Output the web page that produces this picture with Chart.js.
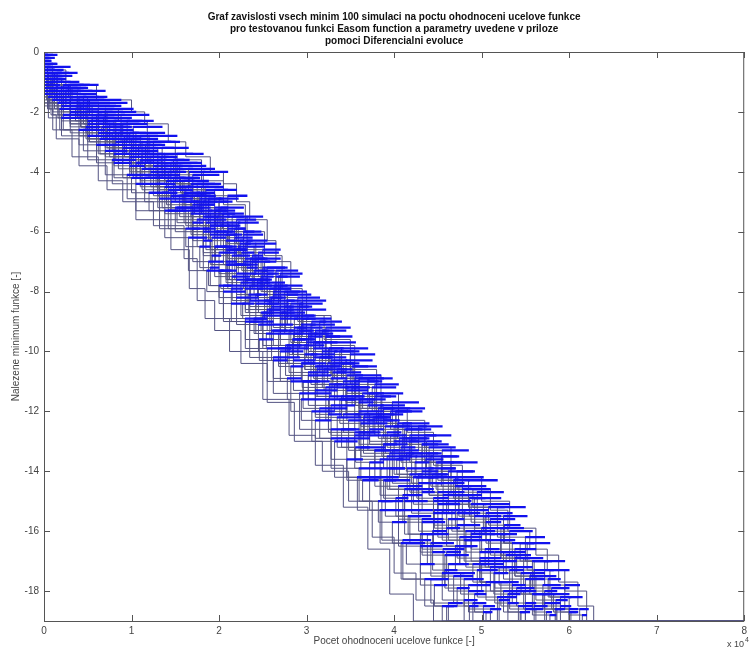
<!DOCTYPE html>
<html>
<head>
<meta charset="utf-8">
<script src="https://cdn.jsdelivr.net/npm/chart.js@4.4.1/dist/chart.umd.min.js"></script>
<style>
  html, body { margin: 0; padding: 0; background: #fff; }
  #wrap { width: 751px; height: 650px; position: relative; }
</style>
</head>
<body>
<div id="wrap"><canvas id="chart"></canvas></div>
<script>
// title and axis text
const titleLines = [
  "Graf zavislosti vsech minim 100 simulaci na poctu ohodnoceni ucelove funkce",
  "pro testovanou funkci Easom function a parametry uvedene v priloze",
  "pomoci Diferencialni evoluce",
];
const xLabel = "Pocet ohodnoceni ucelove funkce [-]";
const yLabel = "Nalezene minimum funkce [-]";

// tick positions (x is in units of 10^4 evaluations)
const evalTicks = [0, 1, 2, 3, 4, 5, 6, 7, 8];
const minTicks = [-18, -16, -14, -12, -10, -8, -6, -4, -2, 0];

// best-so-far traces: [evaluations / 10^4, minimum found]
const run01 = [[0,-0.2],[0.03,-0.9],[0.08,-1.6],[0.14,-2.1],[0.4,-2.9],[0.72,-3.8],[1.05,-4.6],[1.45,-5.6],[1.66,-6.6],[1.84,-7.9],[2.12,-8.9],[2.5,-10.0],[2.8,-11.6],[3.1,-12.8],[3.42,-13.8],[3.7,-15.2],[3.95,-16.6],[4.22,-18.1],[4.48,-19],[8,-19]];
const run02 = [[0,-0.5],[0.06,-1.1],[0.18,-1.9],[0.45,-2.6],[0.7,-3.3],[0.95,-4.1],[1.32,-4.9],[1.7,-5.9],[1.88,-7.0],[2.05,-7.8],[2.35,-9.0],[2.62,-10.2],[2.92,-11.4],[3.28,-12.6],[3.6,-13.9],[3.86,-15.0],[4.1,-16.3],[4.42,-17.6],[4.62,-18.4],[4.78,-19],[8,-19]];
const run03 = [[0,-0.1],[0.04,-0.6],[0.12,-1.3],[0.3,-1.8],[0.6,-2.4],[0.8,-3.1],[1.05,-3.7],[1.3,-4.4],[1.5,-5.2],[1.82,-6.0],[2.0,-7.3],[2.2,-8.2],[2.45,-9.1],[2.7,-10.0],[2.96,-11.0],[3.15,-11.9],[3.46,-12.9],[3.72,-14.2],[4.05,-15.3],[4.3,-16.5],[4.55,-17.4],[4.8,-18.3],[4.95,-19],[8,-19]];
const run04 = [[0,-0.7],[0.1,-1.2],[0.3,-1.7],[0.52,-2.3],[0.85,-3.0],[1.12,-3.9],[1.42,-4.6],[1.7,-5.3],[1.92,-6.2],[2.08,-7.1],[2.25,-7.7],[2.5,-8.8],[2.8,-9.9],[3.02,-10.7],[3.25,-11.6],[3.55,-12.7],[3.84,-13.6],[4.1,-14.8],[4.32,-15.7],[4.58,-16.8],[4.85,-17.8],[5.1,-18.6],[5.22,-19],[8,-19]];
const run05 = [[0,-0.3],[0.08,-0.9],[0.22,-1.5],[0.48,-2.0],[0.78,-2.7],[1.05,-3.3],[1.3,-4.0],[1.6,-4.8],[1.85,-5.7],[2.1,-6.6],[2.3,-7.6],[2.58,-8.6],[2.85,-9.6],[3.1,-10.5],[3.38,-11.6],[3.62,-12.4],[3.92,-13.5],[4.2,-14.6],[4.45,-15.4],[4.7,-16.5],[4.95,-17.3],[5.18,-18.2],[5.4,-19],[8,-19]];
const run06 = [[0,-0.9],[0.15,-1.4],[0.42,-1.9],[0.7,-2.5],[0.98,-3.2],[1.28,-3.8],[1.58,-4.5],[1.88,-5.3],[2.08,-6.3],[2.28,-7.0],[2.45,-7.9],[2.7,-8.7],[2.98,-9.8],[3.2,-10.6],[3.46,-11.3],[3.7,-12.3],[3.98,-13.3],[4.28,-14.4],[4.55,-15.3],[4.82,-16.3],[5.1,-17.2],[5.32,-18.0],[5.5,-18.6],[5.62,-19],[8,-19]];
const run07 = [[0,-0.4],[0.1,-1.0],[0.3,-1.4],[0.6,-2.1],[0.92,-2.8],[1.2,-3.5],[1.48,-4.2],[1.78,-4.9],[2.02,-5.8],[2.22,-6.5],[2.4,-7.4],[2.62,-8.1],[2.9,-9.2],[3.18,-10.2],[3.45,-11.2],[3.72,-12.1],[4.0,-13.0],[4.28,-14.1],[4.6,-15.0],[4.88,-16.1],[5.15,-17.0],[5.4,-17.9],[5.6,-18.5],[5.75,-19],[8,-19]];
const run08 = [[0,-0.6],[0.12,-1.2],[0.38,-1.6],[0.68,-2.2],[1.0,-2.9],[1.3,-3.6],[1.6,-4.3],[1.88,-5.0],[2.1,-5.9],[2.3,-6.9],[2.52,-7.7],[2.75,-8.5],[3.02,-9.4],[3.3,-10.4],[3.55,-11.0],[3.82,-12.1],[4.1,-12.9],[4.4,-13.9],[4.7,-14.8],[5.0,-15.9],[5.25,-16.7],[5.5,-17.6],[5.72,-18.4],[5.9,-19],[8,-19]];
const run09 = [[0,-0.2],[0.07,-0.8],[0.25,-1.3],[0.55,-1.8],[0.88,-2.4],[1.18,-3.0],[1.5,-3.7],[1.8,-4.5],[2.05,-5.4],[2.28,-6.1],[2.5,-7.2],[2.75,-8.0],[3.0,-8.9],[3.28,-9.7],[3.56,-10.8],[3.85,-11.8],[4.12,-12.6],[4.42,-13.5],[4.74,-14.5],[5.05,-15.4],[5.35,-16.4],[5.6,-17.3],[5.82,-18.1],[6.0,-18.7],[6.08,-19],[8,-19]];
const run10 = [[0,-0.1],[0.15,-0.7],[0.38,-1.3],[0.7,-1.9],[1.02,-2.5],[1.35,-3.2],[1.65,-3.9],[1.95,-4.6],[2.2,-5.6],[2.42,-6.4],[2.65,-7.3],[2.9,-8.2],[3.15,-9.0],[3.4,-9.9],[3.7,-10.9],[3.98,-11.7],[4.28,-12.5],[4.55,-13.3],[4.85,-14.3],[5.18,-15.2],[5.5,-16.2],[5.72,-17.0],[5.95,-17.8],[6.12,-18.6],[6.22,-19],[8,-19]];
const run11 = [[0,-0.5],[0.2,-0.9],[0.5,-1.5],[0.85,-1.9],[1.18,-2.3],[1.5,-3.0],[1.8,-3.6],[2.05,-4.3],[2.3,-5.1],[2.52,-6.0],[2.72,-6.8],[2.95,-7.9],[3.2,-8.8],[3.5,-9.6],[3.8,-10.6],[4.05,-11.4],[4.35,-12.3],[4.65,-13.2],[5.0,-14.2],[5.32,-15.0],[5.62,-15.9],[5.88,-16.8],[6.1,-17.7],[6.28,-18.5],[6.31,-19],[8,-19]];
const run12 = [[0,-0.3],[0.25,-0.6],[0.6,-1.1],[1.0,-1.6],[1.15,-2.0],[1.42,-2.4],[1.62,-3.0],[1.9,-3.5],[2.05,-4.0],[2.2,-4.4],[2.35,-5.0],[2.55,-5.6],[2.65,-6.3],[2.82,-7.0],[3.0,-8.0],[3.28,-8.8],[3.55,-9.8],[3.85,-10.8],[4.15,-11.9],[4.45,-12.7],[4.78,-13.8],[5.1,-14.6],[5.3,-15.3],[5.55,-16.0],[5.75,-16.6],[5.95,-17.3],[6.2,-18.0],[6.26,-19],[8,-19]];
const run13 = [[0,-1.1],[0.1,-1.6],[0.3,-2.0],[0.62,-2.7],[0.9,-3.4],[1.15,-4.2],[1.45,-5.0],[1.75,-5.6],[1.95,-6.5],[2.15,-7.5],[2.35,-8.3],[2.6,-9.3],[2.85,-10.3],[3.1,-11.3],[3.35,-12.2],[3.62,-13.2],[3.9,-14.3],[4.18,-15.5],[4.42,-16.4],[4.68,-17.5],[4.9,-18.4],[5.05,-19],[8,-19]];
const run14 = [[0,-1.4],[0.2,-1.8],[0.5,-2.3],[0.82,-3.0],[1.1,-3.6],[1.4,-4.3],[1.7,-5.1],[1.95,-6.0],[2.15,-6.8],[2.35,-7.8],[2.6,-8.5],[2.85,-9.4],[3.12,-10.5],[3.4,-11.5],[3.65,-12.2],[3.95,-13.4],[4.22,-14.2],[4.5,-15.1],[4.75,-16.2],[5.0,-17.1],[5.25,-18.0],[5.45,-18.7],[5.55,-19],[8,-19]];
const run15 = [[0,-0.8],[0.18,-1.3],[0.45,-1.7],[0.75,-2.4],[1.08,-3.1],[1.38,-3.8],[1.68,-4.4],[1.95,-5.3],[2.18,-6.2],[2.38,-7.0],[2.58,-7.9],[2.82,-8.8],[3.08,-9.7],[3.35,-10.7],[3.62,-11.6],[3.9,-12.5],[4.2,-13.4],[4.5,-14.4],[4.8,-15.3],[5.08,-16.3],[5.35,-17.2],[5.58,-18.1],[5.78,-18.8],[5.85,-19],[8,-19]];
const run16 = [[0,-0.4],[0.14,-1.0],[0.4,-1.5],[0.72,-2.0],[1.05,-2.7],[1.38,-3.4],[1.7,-4.1],[2.0,-4.9],[2.22,-5.7],[2.45,-6.7],[2.68,-7.5],[2.92,-8.4],[3.18,-9.3],[3.45,-10.3],[3.75,-11.2],[4.02,-12.0],[4.32,-13.1],[4.62,-14.0],[4.92,-14.9],[5.22,-15.9],[5.48,-16.9],[5.7,-17.8],[5.9,-18.5],[6.02,-19],[8,-19]];
const run17 = [[0,-0.9],[0.05,-1.5],[0.2,-2.2],[0.5,-2.8],[0.78,-3.6],[1.05,-4.4],[1.38,-5.3],[1.65,-6.2],[1.86,-7.3],[2.05,-8.0],[2.3,-8.9],[2.55,-9.9],[2.82,-11.0],[3.06,-12.0],[3.32,-13.0],[3.58,-14.2],[3.84,-15.3],[4.08,-16.4],[4.35,-17.6],[4.55,-18.5],[4.68,-19],[8,-19]];
const run18 = [[0,-0.6],[0.22,-1.1],[0.52,-1.6],[0.88,-2.1],[1.2,-2.8],[1.52,-3.4],[1.82,-4.0],[2.1,-4.8],[2.32,-5.5],[2.5,-6.6],[2.7,-7.4],[2.95,-8.3],[3.22,-9.2],[3.5,-10.1],[3.78,-11.1],[4.05,-11.9],[4.35,-12.8],[4.65,-13.7],[4.95,-14.7],[5.25,-15.5],[5.52,-16.4],[5.78,-17.3],[6.0,-18.2],[6.15,-18.8],[6.2,-19],[8,-19]];
const run19 = [[0,-0.2],[0.05,-0.7],[0.2,-1.2],[0.42,-1.8],[0.75,-2.5],[1.0,-3.3],[1.3,-4.1],[1.55,-4.8],[1.82,-5.5],[2.0,-6.7],[2.2,-7.4],[2.42,-8.4],[2.68,-9.4],[2.95,-10.4],[3.22,-11.2],[3.48,-12.3],[3.78,-13.3],[4.05,-14.5],[4.32,-15.6],[4.56,-16.6],[4.8,-17.6],[5.02,-18.5],[5.15,-19],[8,-19]];
const run20 = [[0,-1.2],[0.16,-1.7],[0.4,-2.2],[0.7,-2.8],[1.02,-3.5],[1.32,-4.2],[1.62,-5.0],[1.9,-5.8],[2.12,-6.6],[2.32,-7.6],[2.55,-8.4],[2.8,-9.3],[3.05,-10.1],[3.32,-11.1],[3.6,-12.0],[3.88,-13.1],[4.15,-13.9],[4.45,-15.0],[4.72,-15.8],[4.98,-16.9],[5.22,-17.7],[5.42,-18.5],[5.58,-19],[8,-19]];
const run21 = [[0,-0.6],[0.04,-1.3],[0.1,-1.9],[0.32,-2.6],[0.62,-3.5],[0.9,-4.3],[1.25,-5.0],[1.6,-5.8],[1.75,-6.9],[1.95,-8.3],[2.25,-9.3],[2.55,-10.4],[2.86,-11.7],[3.18,-13.0],[3.48,-14.0],[3.75,-15.0],[4.0,-16.2],[4.25,-17.4],[4.45,-18.3],[4.58,-19],[8,-19]];
const run22 = [[0,-0.1],[0.1,-0.5],[0.3,-1.1],[0.62,-1.7],[0.95,-2.3],[1.25,-3.0],[1.55,-3.8],[1.85,-4.6],[2.1,-5.5],[2.32,-6.3],[2.55,-7.2],[2.78,-8.1],[3.05,-9.1],[3.32,-10.0],[3.6,-10.9],[3.88,-11.9],[4.18,-12.8],[4.48,-13.7],[4.78,-14.6],[5.1,-15.6],[5.38,-16.6],[5.62,-17.5],[5.85,-18.3],[5.98,-19],[8,-19]];
const run23 = [[0,-0.7],[0.2,-1.2],[0.48,-1.8],[0.82,-2.3],[1.12,-3.0],[1.45,-3.7],[1.75,-4.4],[2.02,-5.2],[2.28,-6.0],[2.48,-6.9],[2.7,-7.8],[2.95,-8.6],[3.22,-9.5],[3.52,-10.5],[3.8,-11.4],[4.1,-12.4],[4.4,-13.2],[4.7,-14.2],[5.02,-15.1],[5.32,-16.0],[5.58,-17.0],[5.8,-17.9],[6.0,-18.6],[6.1,-19],[8,-19]];
const run24 = [[0,-0.5],[0.08,-1.0],[0.22,-1.6],[0.5,-2.2],[0.8,-2.9],[1.1,-3.7],[1.38,-4.5],[1.68,-5.4],[1.9,-6.1],[2.1,-7.1],[2.3,-7.9],[2.5,-8.7],[2.76,-9.8],[3.02,-10.8],[3.28,-11.8],[3.55,-12.8],[3.85,-13.9],[4.12,-15.0],[4.38,-16.1],[4.62,-17.1],[4.85,-18.0],[5.02,-18.7],[5.1,-19],[8,-19]];
const run25 = [[0,-0.3],[0.05,-0.8],[0.15,-1.2],[0.3,-1.6],[0.45,-2.0],[0.62,-2.4],[0.8,-2.8],[0.98,-3.3],[1.15,-3.7],[1.32,-4.1],[1.5,-4.6],[1.68,-5.0],[1.85,-5.5],[1.98,-6.0],[2.08,-6.6],[2.18,-7.1],[2.3,-7.6],[2.42,-8.1],[2.55,-8.6],[2.7,-9.1],[2.84,-9.6],[2.98,-10.1],[3.12,-10.6],[3.26,-11.1],[3.4,-11.6],[3.55,-12.1],[3.72,-12.6],[3.88,-13.1],[4.03,-13.6],[4.18,-14.1],[4.32,-14.7],[4.46,-15.3],[4.6,-15.9],[4.75,-16.5],[4.9,-17.1],[5.05,-17.7],[5.2,-18.3],[5.32,-19],[8,-19]];
const run26 = [[0,-0.6],[0.1,-1.0],[0.22,-1.4],[0.38,-1.8],[0.55,-2.2],[0.72,-2.6],[0.9,-3.0],[1.08,-3.4],[1.25,-3.8],[1.42,-4.2],[1.6,-4.7],[1.78,-5.1],[1.95,-5.6],[2.08,-6.1],[2.2,-6.6],[2.32,-7.2],[2.44,-7.7],[2.58,-8.2],[2.72,-8.7],[2.86,-9.2],[3.0,-9.7],[3.15,-10.2],[3.3,-10.7],[3.45,-11.2],[3.6,-11.7],[3.76,-12.2],[3.92,-12.7],[4.08,-13.2],[4.24,-13.7],[4.4,-14.2],[4.56,-14.8],[4.72,-15.4],[4.88,-16.0],[5.04,-16.6],[5.2,-17.2],[5.35,-17.8],[5.5,-18.4],[5.62,-19],[8,-19]];
const run27 = [[0,-0.2],[0.12,-0.7],[0.28,-1.1],[0.45,-1.5],[0.62,-1.9],[0.8,-2.3],[0.98,-2.7],[1.16,-3.1],[1.34,-3.5],[1.52,-3.9],[1.7,-4.4],[1.88,-4.9],[2.04,-5.4],[2.18,-5.9],[2.3,-6.4],[2.42,-6.9],[2.55,-7.4],[2.68,-7.9],[2.82,-8.4],[2.96,-8.9],[3.1,-9.4],[3.25,-9.9],[3.4,-10.4],[3.55,-10.9],[3.72,-11.4],[3.88,-11.9],[4.04,-12.4],[4.2,-12.9],[4.37,-13.4],[4.54,-13.9],[4.7,-14.5],[4.88,-15.1],[5.05,-15.7],[5.22,-16.3],[5.38,-16.9],[5.55,-17.5],[5.7,-18.1],[5.84,-18.6],[5.92,-19],[8,-19]];
const run28 = [[0,-0.9],[0.06,-1.3],[0.16,-1.7],[0.3,-2.1],[0.48,-2.5],[0.64,-2.9],[0.8,-3.4],[0.98,-3.8],[1.15,-4.2],[1.35,-4.7],[1.52,-5.2],[1.7,-5.7],[1.82,-6.3],[1.92,-6.8],[2.02,-7.3],[2.14,-7.9],[2.27,-8.4],[2.4,-8.9],[2.54,-9.4],[2.68,-9.9],[2.82,-10.5],[2.96,-11.0],[3.1,-11.6],[3.25,-12.1],[3.4,-12.6],[3.56,-13.2],[3.72,-13.7],[3.88,-14.3],[4.02,-14.9],[4.16,-15.5],[4.3,-16.1],[4.44,-16.7],[4.58,-17.3],[4.72,-17.9],[4.86,-18.5],[4.96,-19],[8,-19]];
const run29 = [[0,-0.4],[0.15,-0.8],[0.32,-1.2],[0.5,-1.6],[0.7,-2.0],[0.9,-2.4],[1.1,-2.8],[1.3,-3.2],[1.48,-3.6],[1.66,-4.0],[1.84,-4.5],[2.0,-5.0],[2.15,-5.5],[2.28,-6.0],[2.4,-6.5],[2.52,-7.0],[2.65,-7.5],[2.78,-8.0],[2.92,-8.5],[3.06,-9.0],[3.22,-9.5],[3.38,-10.0],[3.54,-10.5],[3.7,-11.0],[3.86,-11.5],[4.02,-12.0],[4.2,-12.5],[4.37,-13.0],[4.54,-13.5],[4.72,-14.0],[4.9,-14.6],[5.08,-15.2],[5.26,-15.8],[5.44,-16.4],[5.6,-17.0],[5.76,-17.6],[5.9,-18.2],[6.02,-18.7],[6.1,-19],[8,-19]];
const run30 = [[0,-1.0],[0.12,-1.5],[0.3,-1.9],[0.5,-2.4],[0.75,-2.9],[0.98,-3.5],[1.22,-4.0],[1.45,-4.5],[1.7,-5.2],[1.9,-5.8],[2.05,-6.5],[2.2,-7.1],[2.36,-7.8],[2.52,-8.3],[2.7,-8.9],[2.9,-9.6],[3.08,-10.2],[3.28,-10.9],[3.46,-11.5],[3.66,-12.1],[3.86,-12.8],[4.06,-13.5],[4.26,-14.2],[4.45,-14.9],[4.62,-15.6],[4.8,-16.3],[4.98,-17.0],[5.15,-17.7],[5.3,-18.4],[5.42,-19],[8,-19]];
const run31 = [[0,-0.5],[0.1,-0.9],[0.25,-1.3],[0.42,-1.7],[0.62,-2.1],[0.82,-2.6],[1.02,-3.1],[1.22,-3.5],[1.42,-4.0],[1.62,-4.5],[1.82,-5.0],[1.98,-5.5],[2.12,-6.1],[2.26,-6.7],[2.4,-7.3],[2.55,-7.8],[2.7,-8.3],[2.86,-8.9],[3.02,-9.5],[3.18,-10.0],[3.35,-10.6],[3.52,-11.2],[3.7,-11.8],[3.88,-12.3],[4.06,-12.9],[4.25,-13.5],[4.44,-14.1],[4.62,-14.7],[4.8,-15.4],[4.98,-16.0],[5.15,-16.7],[5.32,-17.3],[5.48,-18.0],[5.62,-18.6],[5.7,-19],[8,-19]];
const run32 = [[0,-0.1],[0.04,-0.5],[0.1,-0.9],[0.2,-1.4],[0.36,-1.9],[0.55,-2.3],[0.72,-2.8],[0.9,-3.2],[1.06,-3.7],[1.25,-4.2],[1.45,-4.8],[1.65,-5.3],[1.82,-5.9],[1.96,-6.5],[2.08,-7.0],[2.2,-7.6],[2.34,-8.1],[2.48,-8.7],[2.62,-9.3],[2.78,-9.8],[2.94,-10.4],[3.1,-11.0],[3.26,-11.5],[3.42,-12.1],[3.6,-12.7],[3.78,-13.3],[3.95,-13.9],[4.12,-14.6],[4.28,-15.3],[4.44,-16.0],[4.6,-16.7],[4.76,-17.4],[4.92,-18.1],[5.05,-18.7],[5.12,-19],[8,-19]];
const run33 = [[0,-1.3],[0.2,-1.7],[0.42,-2.1],[0.66,-2.5],[0.9,-2.9],[1.12,-3.4],[1.35,-3.8],[1.56,-4.2],[1.76,-4.7],[1.95,-5.2],[2.1,-5.7],[2.24,-6.3],[2.38,-6.8],[2.5,-7.3],[2.63,-7.8],[2.78,-8.3],[2.94,-8.8],[3.1,-9.3],[3.26,-9.9],[3.42,-10.4],[3.6,-10.9],[3.78,-11.5],[3.96,-12.0],[4.14,-12.6],[4.32,-13.1],[4.5,-13.7],[4.68,-14.3],[4.86,-14.9],[5.04,-15.5],[5.22,-16.1],[5.4,-16.8],[5.56,-17.4],[5.72,-18.0],[5.86,-18.6],[5.95,-19],[8,-19]];
const run34 = [[0,-0.7],[0.04,-1.1],[0.1,-1.6],[0.22,-2.1],[0.4,-2.6],[0.6,-3.1],[0.8,-3.7],[1.0,-4.2],[1.2,-4.7],[1.42,-5.3],[1.62,-5.9],[1.78,-6.5],[1.9,-7.2],[2.0,-7.8],[2.14,-8.4],[2.3,-9.0],[2.46,-9.6],[2.62,-10.3],[2.78,-10.9],[2.94,-11.6],[3.1,-12.3],[3.28,-12.9],[3.46,-13.6],[3.64,-14.3],[3.82,-15.0],[3.98,-15.7],[4.14,-16.4],[4.3,-17.1],[4.46,-17.8],[4.6,-18.5],[4.72,-19],[8,-19]];
const run35 = [[0,-0.3],[0.08,-0.8],[0.2,-1.3],[0.4,-1.7],[0.62,-2.2],[0.85,-2.7],[1.08,-3.2],[1.3,-3.7],[1.5,-4.3],[1.72,-4.8],[1.9,-5.4],[2.05,-6.0],[2.18,-6.6],[2.3,-7.1],[2.44,-7.6],[2.6,-8.2],[2.76,-8.8],[2.92,-9.3],[3.08,-9.9],[3.24,-10.4],[3.42,-11.0],[3.6,-11.6],[3.78,-12.2],[3.96,-12.8],[4.14,-13.4],[4.32,-14.0],[4.5,-14.7],[4.66,-15.3],[4.82,-16.0],[4.98,-16.7],[5.14,-17.4],[5.3,-18.1],[5.44,-18.7],[5.5,-19],[8,-19]];
const run36 = [[0,-0.8],[0.14,-1.2],[0.3,-1.6],[0.5,-2.0],[0.72,-2.5],[0.94,-2.9],[1.16,-3.4],[1.38,-3.9],[1.58,-4.3],[1.78,-4.8],[1.96,-5.3],[2.1,-5.8],[2.24,-6.4],[2.36,-6.9],[2.48,-7.5],[2.62,-8.0],[2.78,-8.6],[2.94,-9.1],[3.1,-9.7],[3.28,-10.3],[3.46,-10.8],[3.64,-11.4],[3.82,-11.9],[4.0,-12.5],[4.18,-13.0],[4.36,-13.6],[4.56,-14.2],[4.74,-14.8],[4.92,-15.5],[5.1,-16.1],[5.28,-16.8],[5.45,-17.4],[5.6,-18.1],[5.74,-18.7],[5.8,-19],[8,-19]];

// runs along the edges of the band stay thin grey; the rest get blue plateaus
const edgeRuns = [run01, run11, run12, run21];
const runs = [run01, run02, run03, run04, run05, run06, run07, run08, run09, run10, run11, run12,
              run13, run14, run15, run16, run17, run18, run19, run20, run21, run22, run23, run24,
              run25, run26, run27, run28, run29, run30, run31, run32, run33, run34, run35, run36];

const FONT = "'Liberation Sans Narrow', 'Liberation Sans', Arial, sans-serif";
const LINE = "#545482";
const BLUE = "#1212ee";

// box with inward tick marks on all four sides, title on top
const frame = {
  id: "frame",
  afterDatasetsDraw(chart) {
    const { ctx, chartArea: a, scales: { x, y } } = chart;
    ctx.save();
    ctx.strokeStyle = "#555";
    ctx.lineWidth = 1;
    ctx.strokeRect(a.left + 0.5, a.top + 0.5, a.right - a.left - 1, a.bottom - a.top);
    ctx.beginPath();
    for (const v of evalTicks) {
      const px = Math.round(x.getPixelForValue(v)) + 0.5;
      ctx.moveTo(px, a.bottom); ctx.lineTo(px, a.bottom - 6);
      ctx.moveTo(px, a.top); ctx.lineTo(px, a.top + 6);
    }
    for (const v of minTicks) {
      const py = Math.round(y.getPixelForValue(v)) + 0.5;
      ctx.moveTo(a.left, py); ctx.lineTo(a.left + 6, py);
      ctx.moveTo(a.right, py); ctx.lineTo(a.right - 6, py);
    }
    ctx.stroke();

    ctx.fillStyle = "#111";
    ctx.font = "bold 10px " + FONT;
    ctx.textAlign = "center";
    ctx.textBaseline = "middle";
    const cx = (a.left + a.right) / 2;
    titleLines.forEach((t, i) => ctx.fillText(t, cx, 17 + i * 12));

    // exponent for the x axis
    ctx.fillStyle = "#444";
    ctx.font = "9px " + FONT;
    ctx.textAlign = "left";
    ctx.fillText("x 10", 727, 645);
    ctx.font = "7px " + FONT;
    ctx.fillText("4", 745, 640);
    ctx.restore();
  },
};

const stepLines = runs.map((r) => ({
  type: "line",
  data: r,
  stepped: "after",
  borderColor: LINE,
  borderWidth: 1,
  pointRadius: 0,
  fill: false,
  order: 2,
}));

// plateaus of each run (before the final -19 stretch) as thin floating bars
const plateaus = runs.filter((r) => !edgeRuns.includes(r)).map((r) => ({
  type: "bar",
  indexAxis: "y",
  grouped: false,
  barThickness: 1.6,
  backgroundColor: BLUE,
  borderWidth: 0,
  order: 1,
  data: r.slice(0, -2).map((p, i) => ({ y: p[1], x: [p[0], r[i + 1][0]] })),
}));

new Chart(document.getElementById("chart"), {
  type: "line",
  data: { datasets: [...stepLines, ...plateaus] },
  options: {
    responsive: true,
    maintainAspectRatio: false,
    animation: false,
    events: [],
    layout: { padding: { top: 52, right: 2, left: 0, bottom: 0 } },
    plugins: {
      legend: { display: false },
      tooltip: { enabled: false },
    },
    scales: {
      x: {
        type: "linear",
        min: 0,
        max: 8,
        offset: false,
        afterBuildTicks: (s) => { s.ticks = evalTicks.map((v) => ({ value: v })); },
        afterFit: (s) => { s.height = 29; },
        grid: { display: false, drawTicks: false },
        border: { display: false },
        ticks: { color: "#444", padding: 4, maxRotation: 0, font: { family: FONT, size: 10 } },
        title: { display: true, text: xLabel, color: "#444", padding: { top: 0, bottom: 3 }, font: { family: FONT, size: 10 } },
      },
      y: {
        type: "linear",
        min: -19,
        max: 0,
        offset: false,
        afterBuildTicks: (s) => { s.ticks = minTicks.map((v) => ({ value: v })); },
        afterFit: (s) => { s.width = 44; },
        grid: { display: false, drawTicks: false },
        border: { display: false },
        ticks: { color: "#444", padding: 5, font: { family: FONT, size: 10 } },
        title: { display: true, text: yLabel, color: "#444", padding: { top: 10, bottom: 0 }, font: { family: FONT, size: 10 } },
      },
    },
  },
  plugins: [frame],
});
</script>
</body>
</html>
